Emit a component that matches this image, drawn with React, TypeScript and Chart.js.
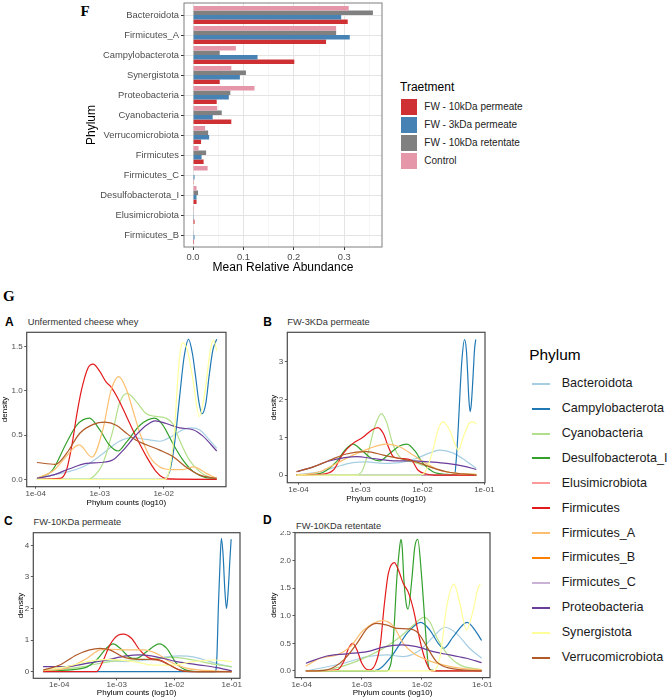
import React, { useEffect, useRef } from "react";
import { Chart, registerables } from "chart.js";
Chart.register(...registerables);

const SANS = "'Liberation Sans', Arial, Helvetica, sans-serif";
const SERIF = "'Liberation Serif', 'Times New Roman', serif";
Chart.defaults.font.family = SANS;

// ---------- Panel F data ----------
const abundanceCategories = [
  "Bacteroidota", "Firmicutes_A", "Campylobacterota", "Synergistota", "Proteobacteria",
  "Cyanobacteria", "Verrucomicrobiota", "Firmicutes", "Firmicutes_C", "Desulfobacterota_I",
  "Elusimicrobiota", "Firmicutes_B",
];
const treatmentLabels = ["FW - 10kDa permeate", "FW - 3kDa permeate", "FW - 10kDa retentate", "Control"];
const permeate10Values = [0.307, 0.264, 0.201, 0.053, 0.047, 0.076, 0.016, 0.021, 0.0005, 0.007, 0.003, 0.002];
const permeate3Values = [0.294, 0.311, 0.128, 0.093, 0.071, 0.039, 0.032, 0.017, 0.003, 0.007, 0.0003, 0.003];
const retentate10Values = [0.357, 0.284, 0.053, 0.105, 0.074, 0.057, 0.030, 0.026, 0.001, 0.010, 0.0005, 0.0005];
const controlValues = [0.309, 0.284, 0.085, 0.076, 0.122, 0.048, 0.024, 0.011, 0.029, 0.007, 0.002, 0.001];
const abundanceTicks = [0, 0.05, 0.1, 0.15, 0.2, 0.25, 0.3, 0.35];
const treatmentColors = ["#CF3034", "#4682B4", "#808080", "#E597A9"];

// ---------- Panel G data ----------
const phyla = [
  "Bacteroidota", "Campylobacterota", "Cyanobacteria", "Desulfobacterota_I", "Elusimicrobiota",
  "Firmicutes", "Firmicutes_A", "Firmicutes_B", "Firmicutes_C", "Proteobacteria",
  "Synergistota", "Verrucomicrobiota",
];
const phylumColors = [
  "#A6CEE3", "#1F78B4", "#B2DF8A", "#33A02C", "#FB9A99", "#E31A1C",
  "#FDBF6F", "#FF7F00", "#CAB2D6", "#6A3D9A", "#FFFF99", "#B15928",
];
const log10Ticks = [-4, -3, -2, -1];

// A: Unfermented cheese whey  [log10 count, density]
const aBacteroidota = [[-3.98, 0.01], [-3.72, 0.05], [-3.47, 0.09], [-3.21, 0.16], [-2.95, 0.29], [-2.69, 0.43], [-2.48, 0.47], [-2.27, 0.45], [-2.06, 0.43], [-1.86, 0.49], [-1.70, 0.56], [-1.57, 0.58], [-1.44, 0.56], [-1.28, 0.44], [-1.17, 0.35]];
const aCampylobacterota = [[-3.98, 0], [-2.02, 0], [-1.91, 0.08], [-1.83, 0.40], [-1.75, 0.93], [-1.68, 1.38], [-1.61, 1.58], [-1.55, 1.42], [-1.50, 1.16], [-1.45, 0.88], [-1.40, 0.74], [-1.34, 0.86], [-1.29, 1.16], [-1.23, 1.46], [-1.17, 1.58]];
const aCyanobacteria = [[-3.98, 0], [-3.20, 0], [-3.10, 0.03], [-2.95, 0.18], [-2.79, 0.56], [-2.69, 0.86], [-2.57, 0.97], [-2.43, 0.88], [-2.27, 0.74], [-2.12, 0.71], [-1.96, 0.69], [-1.86, 0.63], [-1.75, 0.44], [-1.60, 0.22], [-1.44, 0.09], [-1.30, 0.03], [-1.17, 0.01]];
const aDesulfobacterota = [[-3.98, 0.01], [-3.74, 0.10], [-3.52, 0.41], [-3.36, 0.61], [-3.16, 0.69], [-3.0, 0.56], [-2.84, 0.38], [-2.71, 0.32], [-2.58, 0.42], [-2.37, 0.61], [-2.14, 0.69], [-2.01, 0.61], [-1.86, 0.41], [-1.70, 0.22], [-1.54, 0.09], [-1.34, 0.02], [-1.17, 0.01]];
const aElusimicrobiota = [[-2.10, 0], [-1.17, 0]];
const aFirmicutes = [[-3.98, 0], [-3.62, 0.01], [-3.52, 0.10], [-3.43, 0.40], [-3.36, 0.72], [-3.28, 1.02], [-3.18, 1.26], [-3.10, 1.30], [-3.0, 1.22], [-2.90, 1.10], [-2.82, 1.04], [-2.72, 0.92], [-2.58, 0.71], [-2.43, 0.48], [-2.27, 0.26], [-2.12, 0.09], [-2.01, 0.02], [-1.90, 0.005], [-1.17, 0]];
const aFirmicutesA = [[-3.98, 0.01], [-3.72, 0.10], [-3.52, 0.26], [-3.38, 0.37], [-3.32, 0.39], [-3.12, 0.25], [-2.95, 0.56], [-2.82, 1.01], [-2.70, 1.16], [-2.58, 1.01], [-2.48, 0.78], [-2.37, 0.52], [-2.22, 0.26], [-2.06, 0.14], [-1.86, 0.11], [-1.70, 0.11], [-1.53, 0.14], [-1.34, 0.07], [-1.17, 0.01]];
const aFirmicutesB = [];
const aFirmicutesC = [];
const aProteobacteria = [[-3.98, 0.01], [-3.72, 0.05], [-3.47, 0.12], [-3.21, 0.18], [-2.99, 0.19], [-2.79, 0.22], [-2.63, 0.33], [-2.43, 0.50], [-2.27, 0.61], [-2.13, 0.66], [-1.96, 0.63], [-1.75, 0.58], [-1.54, 0.56], [-1.39, 0.49], [-1.17, 0.32]];
const aSynergistota = [[-3.98, 0], [-2.0, 0], [-1.91, 0.10], [-1.83, 0.56], [-1.78, 1.12], [-1.74, 1.44], [-1.70, 1.54], [-1.63, 1.46], [-1.55, 1.16], [-1.44, 0.71], [-1.35, 1.01], [-1.27, 1.46], [-1.22, 1.57], [-1.17, 1.45]];
const aVerrucomicrobiota = [[-3.98, 0.19], [-3.69, 0.17], [-3.52, 0.29], [-3.31, 0.52], [-3.10, 0.62], [-2.92, 0.645], [-2.74, 0.61], [-2.58, 0.52], [-2.43, 0.44], [-2.27, 0.39], [-2.06, 0.33], [-1.86, 0.26], [-1.65, 0.14], [-1.44, 0.05], [-1.17, 0.01]];

// B: FW-3KDa permeate
const bBacteroidota = [[-4.03, 0.01], [-3.66, 0.09], [-3.39, 0.22], [-3.12, 0.33], [-2.90, 0.35], [-2.63, 0.31], [-2.37, 0.33], [-2.10, 0.44], [-1.88, 0.59], [-1.72, 0.66], [-1.51, 0.59], [-1.29, 0.37], [-1.13, 0.18]];
const bCampylobacterota = [[-4.03, 0], [-1.48, 0], [-1.45, 0.5], [-1.42, 1.3], [-1.39, 2.3], [-1.36, 3.1], [-1.32, 3.59], [-1.29, 3.3], [-1.27, 2.7], [-1.25, 2.0], [-1.23, 1.68], [-1.21, 1.9], [-1.18, 2.7], [-1.16, 3.3], [-1.14, 3.59]];
const bCyanobacteria = [[-4.03, 0], [-3.10, 0], [-2.98, 0.09], [-2.88, 0.57], [-2.77, 1.28], [-2.66, 1.63], [-2.58, 1.41], [-2.47, 0.79], [-2.34, 0.44], [-2.15, 0.35], [-1.99, 0.26], [-1.88, 0.22], [-1.72, 0.13], [-1.51, 0.06], [-1.13, 0.02]];
const bDesulfobacterota = [[-4.03, 0.01], [-3.66, 0.04], [-3.39, 0.35], [-3.25, 0.66], [-3.12, 0.82], [-2.98, 0.66], [-2.82, 0.44], [-2.69, 0.38], [-2.53, 0.57], [-2.37, 0.77], [-2.25, 0.82], [-2.12, 0.64], [-1.99, 0.31], [-1.83, 0.09], [-1.61, 0.02], [-1.13, 0]];
const bElusimicrobiota = [[-2.0, 0], [-1.13, 0]];
const bFirmicutes = [[-4.03, 0], [-3.66, 0.02], [-3.44, 0.13], [-3.28, 0.57], [-3.12, 0.84], [-2.96, 1.0], [-2.82, 1.19], [-2.72, 1.26], [-2.63, 1.10], [-2.55, 0.75], [-2.47, 0.49], [-2.34, 0.44], [-2.18, 0.40], [-2.07, 0.13], [-1.94, 0.03], [-1.80, 0], [-1.13, 0]];
const bFirmicutesA = [[-4.03, 0], [-3.66, 0.09], [-3.39, 0.31], [-3.12, 0.53], [-2.85, 0.71], [-2.58, 0.82], [-2.37, 0.75], [-2.15, 0.53], [-1.94, 0.31], [-1.72, 0.13], [-1.40, 0.04], [-1.13, 0.02]];
const bFirmicutesB = [];
const bFirmicutesC = [];
const bProteobacteria = [[-4.03, 0.09], [-3.76, 0.22], [-3.49, 0.38], [-3.06, 0.49], [-2.80, 0.44], [-2.47, 0.38], [-2.15, 0.38], [-1.88, 0.35], [-1.61, 0.31], [-1.34, 0.24], [-1.13, 0.15]];
const bSynergistota = [[-4.03, 0], [-2.04, 0], [-1.94, 0.13], [-1.83, 0.66], [-1.75, 1.19], [-1.67, 1.41], [-1.56, 1.19], [-1.48, 0.84], [-1.42, 0.66], [-1.34, 1.01], [-1.24, 1.38], [-1.18, 1.41], [-1.13, 1.35]];
const bVerrucomicrobiota = [[-4.03, 0.09], [-3.76, 0.22], [-3.49, 0.40], [-3.23, 0.56], [-2.90, 0.62], [-2.63, 0.53], [-2.37, 0.44], [-2.10, 0.35], [-1.88, 0.22], [-1.61, 0.09], [-1.13, 0]];

// C: FW-10KDa permeate
const cBacteroidota = [[-4.28, 0.03], [-3.87, 0.16], [-3.52, 0.28], [-3.18, 0.35], [-2.83, 0.32], [-2.48, 0.37], [-2.13, 0.47], [-1.90, 0.50], [-1.67, 0.47], [-1.38, 0.32], [-1.0, 0.14]];
const cCampylobacterota = [[-4.28, 0], [-1.29, 0], [-1.26, 0.37], [-1.23, 2.16], [-1.20, 3.6], [-1.18, 4.22], [-1.15, 3.7], [-1.12, 2.6], [-1.09, 2.0], [-1.06, 2.6], [-1.03, 3.6], [-1.01, 4.19]];
const cCyanobacteria = [[-4.28, 0], [-3.58, 0.16], [-3.12, 0.32], [-2.71, 0.37], [-2.31, 0.42], [-2.02, 0.45], [-1.67, 0.37], [-1.32, 0.24], [-1.0, 0.16]];
const cDesulfobacterota = [[-4.28, 0.02], [-3.58, 0.11], [-3.35, 0.37], [-3.18, 0.74], [-3.06, 0.88], [-2.94, 0.74], [-2.77, 0.45], [-2.66, 0.42], [-2.48, 0.63], [-2.26, 0.88], [-2.13, 0.74], [-1.96, 0.26], [-1.79, 0.05], [-1.50, 0], [-1.0, 0]];
const cElusimicrobiota = [];
const cFirmicutes = [[-4.28, 0], [-3.35, 0], [-3.23, 0.37], [-3.12, 0.84], [-2.97, 1.16], [-2.88, 1.19], [-2.74, 1.05], [-2.60, 0.69], [-2.42, 0.42], [-2.25, 0.37], [-2.08, 0.21], [-1.90, 0.05], [-1.70, 0], [-1.0, 0]];
const cFirmicutesA = [[-4.28, 0.03], [-3.87, 0.11], [-3.52, 0.42], [-3.29, 0.69], [-3.12, 0.71], [-2.83, 0.69], [-2.54, 0.69], [-2.31, 0.58], [-2.08, 0.32], [-1.79, 0.11], [-1.26, 0.02], [-1.0, 0.01]];
const cFirmicutesB = [];
const cFirmicutesC = [];
const cProteobacteria = [[-4.28, 0.16], [-3.87, 0.16], [-3.52, 0.26], [-3.18, 0.37], [-2.83, 0.50], [-2.60, 0.53], [-2.31, 0.47], [-1.96, 0.32], [-1.55, 0.21], [-1.26, 0.13], [-1.0, 0.03]];
const cSynergistota = [[-4.28, 0.05], [-3.87, 0.16], [-3.52, 0.32], [-3.12, 0.39], [-2.71, 0.32], [-2.37, 0.21], [-2.02, 0.21], [-1.67, 0.32], [-1.32, 0.37], [-1.0, 0.32]];
const cVerrucomicrobiota = [[-4.28, 0.05], [-3.99, 0.21], [-3.70, 0.53], [-3.47, 0.69], [-3.29, 0.74], [-3.12, 0.69], [-2.89, 0.47], [-2.60, 0.39], [-2.31, 0.37], [-2.08, 0.21], [-1.90, 0.05], [-1.55, 0], [-1.0, 0]];

// D: FW-10KDa retentate
const dBacteroidota = [[-3.93, 0], [-3.30, 0.14], [-2.91, 0.26], [-2.58, 0.29], [-2.31, 0.26], [-2.03, 0.38], [-1.81, 0.62], [-1.62, 0.79], [-1.43, 0.68], [-1.21, 0.41], [-1.01, 0.23]];
const dCampylobacterota = [[-3.93, 0], [-2.86, 0], [-2.69, 0.05], [-2.47, 0.32], [-2.25, 0.68], [-2.02, 0.88], [-1.87, 0.74], [-1.73, 0.50], [-1.64, 0.41], [-1.48, 0.62], [-1.25, 0.88], [-1.12, 0.74], [-1.01, 0.55]];
const dCyanobacteria = [[-3.93, 0], [-3.58, 0.02], [-3.25, 0.11], [-2.91, 0.26], [-2.64, 0.41], [-2.36, 0.62], [-2.14, 0.83], [-1.97, 0.97], [-1.87, 0.89], [-1.76, 0.62], [-1.59, 0.32], [-1.37, 0.11], [-1.01, 0.02]];
const dDesulfobacterota = [[-3.93, 0], [-2.58, 0], [-2.55, 0.03], [-2.50, 0.25], [-2.46, 0.85], [-2.42, 1.64], [-2.38, 2.15], [-2.35, 2.38], [-2.33, 2.25], [-2.30, 1.64], [-2.26, 1.2], [-2.23, 1.12], [-2.17, 1.64], [-2.12, 2.24], [-2.07, 2.38], [-2.01, 1.76], [-1.95, 0.86], [-1.90, 0.14], [-1.86, 0.02], [-1.70, 0], [-1.01, 0]];
const dElusimicrobiota = [[-1.84, 0], [-1.01, 0]];
const dFirmicutes = [[-3.93, 0], [-3.41, 0.02], [-3.30, 0.17], [-3.22, 0.41], [-3.15, 0.50], [-3.08, 0.38], [-3.0, 0.14], [-2.89, 0.02], [-2.78, 0.11], [-2.69, 0.50], [-2.63, 1.16], [-2.56, 1.76], [-2.46, 1.96], [-2.39, 1.82], [-2.31, 1.58], [-2.23, 1.43], [-2.14, 1.10], [-2.06, 0.68], [-1.98, 0.32], [-1.90, 0.08], [-1.84, 0], [-1.01, 0]];
const dFirmicutesA = [[-3.93, 0.09], [-3.69, 0.23], [-3.41, 0.29], [-3.19, 0.44], [-2.97, 0.74], [-2.64, 0.91], [-2.47, 0.80], [-2.31, 0.50], [-2.14, 0.32], [-1.92, 0.20], [-1.65, 0.11], [-1.37, 0.05], [-1.01, 0.02]];
const dFirmicutesB = [];
const dFirmicutesC = [];
const dProteobacteria = [[-3.93, 0.14], [-3.58, 0.27], [-3.25, 0.31], [-2.91, 0.35], [-2.64, 0.43], [-2.34, 0.47], [-2.09, 0.44], [-1.81, 0.35], [-1.54, 0.29], [-1.26, 0.23], [-1.01, 0.15]];
const dSynergistota = [[-3.93, 0], [-1.81, 0], [-1.70, 0.26], [-1.59, 1.16], [-1.47, 1.57], [-1.37, 1.22], [-1.26, 0.74], [-1.15, 1.10], [-1.07, 1.49], [-1.03, 1.57]];
const dVerrucomicrobiota = [[-3.93, 0], [-3.58, 0.02], [-3.30, 0.20], [-3.08, 0.50], [-2.91, 0.77], [-2.75, 0.86], [-2.58, 0.83], [-2.42, 0.77], [-2.20, 0.76], [-2.06, 0.68], [-1.92, 0.44], [-1.76, 0.17], [-1.54, 0.05], [-1.01, 0]];

const panelASeries = [aBacteroidota, aCampylobacterota, aCyanobacteria, aDesulfobacterota, aElusimicrobiota, aFirmicutes, aFirmicutesA, aFirmicutesB, aFirmicutesC, aProteobacteria, aSynergistota, aVerrucomicrobiota];
const panelBSeries = [bBacteroidota, bCampylobacterota, bCyanobacteria, bDesulfobacterota, bElusimicrobiota, bFirmicutes, bFirmicutesA, bFirmicutesB, bFirmicutesC, bProteobacteria, bSynergistota, bVerrucomicrobiota];
const panelCSeries = [cBacteroidota, cCampylobacterota, cCyanobacteria, cDesulfobacterota, cElusimicrobiota, cFirmicutes, cFirmicutesA, cFirmicutesB, cFirmicutesC, cProteobacteria, cSynergistota, cVerrucomicrobiota];
const panelDSeries = [dBacteroidota, dCampylobacterota, dCyanobacteria, dDesulfobacterota, dElusimicrobiota, dFirmicutes, dFirmicutesA, dFirmicutesB, dFirmicutesC, dProteobacteria, dSynergistota, dVerrucomicrobiota];

const densityTicksA = [0, 0.5, 1, 1.5];
const densityTicksB = [0, 1, 2, 3];
const densityTicksC = [0, 1, 2, 3, 4];
const densityTicksD = [0, 0.5, 1, 1.5, 2, 2.5];

// ---------- layout specs (pixels) ----------
const panelSpecs = [
  { series: panelASeries, xMin: -4.14, xMax: -1.025, yMin: -0.083, yMax: 1.659, yTicks: densityTicksA, xTicks: log10Ticks, dec: 1,
    plot: [26.7, 332.3, 226, 486.7], canvas: [0, 331, 238, 508] },
  { series: panelBSeries, xMin: -4.18, xMax: -0.99, yMin: -0.2, yMax: 3.78, yTicks: densityTicksB, xTicks: log10Ticks, dec: 0,
    plot: [287.3, 332.3, 485, 482.7], canvas: [269, 331, 497, 504] },
  { series: panelCSeries, xMin: -4.45, xMax: -0.856, yMin: -0.21, yMax: 4.4, yTicks: densityTicksC, xTicks: log10Ticks, dec: 0,
    plot: [33.3, 532.7, 240, 678.3], canvas: [16, 531, 252, 698] },
  { series: panelDSeries, xMin: -4.11, xMax: -0.87, yMin: -0.12, yMax: 2.5, yTicks: densityTicksD, xTicks: log10Ticks, dec: 1,
    plot: [295, 532.7, 490, 677.6], canvas: [269, 531, 502, 698] },
];

const framePlugin = (color, width) => ({
  id: "frame",
  afterDraw(chart) {
    const { ctx, chartArea: a } = chart;
    ctx.save();
    ctx.strokeStyle = color;
    ctx.lineWidth = width;
    ctx.strokeRect(a.left, a.top, a.right - a.left, a.bottom - a.top);
    ctx.restore();
  },
});

const zeroPad = (s) => {
  s.paddingLeft = 0; s.paddingRight = 0; s.paddingTop = 0; s.paddingBottom = 0;
};

function makeDensity(canvas, spec) {
  const [pl, pt, pr, pb] = spec.plot;
  const [cl, ct, cr, cb] = spec.canvas;
  const yW = pl - cl, xH = cb - pb;
  return new Chart(canvas, {
    type: "scatter",
    data: {
      datasets: spec.series.map((pts, i) => ({
        label: phyla[i],
        data: pts.map(([x, y]) => ({ x, y })),
        showLine: true,
        borderColor: phylumColors[i],
        backgroundColor: phylumColors[i],
        borderWidth: 1.2,
        pointRadius: 0,
        cubicInterpolationMode: "monotone",
        fill: false,
        order: 11 - i,
      })),
    },
    options: {
      animation: false,
      responsive: false,
      events: [],
      plugins: { legend: { display: false }, tooltip: { enabled: false } },
      layout: { padding: { top: pt - ct, right: cr - pr, left: 0, bottom: 0 } },
      scales: {
        x: {
          type: "linear", min: spec.xMin, max: spec.xMax,
          afterBuildTicks: (s) => { s.ticks = spec.xTicks.filter((v) => v >= spec.xMin && v <= spec.xMax).map((v) => ({ value: v })); },
          ticks: { callback: (v) => "1e-0" + Math.round(-v), font: { size: 8 }, color: "#4D4D4D", padding: 0, maxRotation: 0, autoSkip: false },
          grid: { drawOnChartArea: false, drawTicks: true, tickLength: 2, tickColor: "#333", tickWidth: 0.8 },
          border: { display: false },
          title: { display: true, text: "Phylum counts (log10)", font: { size: 8 }, color: "#000", padding: 0 },
          afterFit: (s) => { s.height = xH; zeroPad(s); },
        },
        y: {
          type: "linear", min: spec.yMin, max: spec.yMax,
          afterBuildTicks: (s) => { s.ticks = spec.yTicks.map((v) => ({ value: v })); },
          ticks: { callback: (v) => Number(v).toFixed(spec.dec), font: { size: 8 }, color: "#4D4D4D", padding: 1.5, autoSkip: false },
          grid: { drawOnChartArea: false, drawTicks: true, tickLength: 2.5, tickColor: "#333", tickWidth: 0.8 },
          border: { display: false },
          title: { display: true, text: "density", font: { size: 8 }, color: "#000", padding: 0 },
          afterFit: (s) => { s.width = yW; zeroPad(s); },
        },
      },
    },
    plugins: [framePlugin("#4a4a4a", 1.2)],
  });
}

const fPlot = [184, 3, 382, 247];
const fCanvas = [84, 2, 386, 275];

function makeAbundance(canvas) {
  const [pl, pt, pr, pb] = fPlot;
  const [cl, ct, cr, cb] = fCanvas;
  const toXY = (arr) => arr.map((v, i) => ({ x: v, y: i }));
  const isMajor = (v) => Math.abs(Math.round(v * 10) - v * 10) < 1e-6;
  return new Chart(canvas, {
    type: "bar",
    data: {
      datasets: [
        { label: treatmentLabels[3], data: toXY(controlValues), backgroundColor: treatmentColors[3] },
        { label: treatmentLabels[2], data: toXY(retentate10Values), backgroundColor: treatmentColors[2] },
        { label: treatmentLabels[1], data: toXY(permeate3Values), backgroundColor: treatmentColors[1] },
        { label: treatmentLabels[0], data: toXY(permeate10Values), backgroundColor: treatmentColors[0] },
      ],
    },
    options: {
      indexAxis: "y",
      animation: false,
      responsive: false,
      events: [],
      datasets: { bar: { categoryPercentage: 0.9, barPercentage: 1.0, borderWidth: 0 } },
      plugins: { legend: { display: false }, tooltip: { enabled: false } },
      layout: { padding: { top: pt - ct, right: cr - pr, left: 0, bottom: 0 } },
      scales: {
        x: {
          type: "linear", min: -0.0179, max: 0.375,
          afterBuildTicks: (s) => { s.ticks = abundanceTicks.map((v) => ({ value: v })); },
          ticks: { callback: (v) => (isMajor(v) ? Number(v).toFixed(1) : ""), font: { size: 9.4 }, color: "#4D4D4D", padding: 2, maxRotation: 0, autoSkip: false },
          grid: {
            color: (c) => (c.tick && isMajor(c.tick.value) ? "#E4E4E4" : "#EFEFEF"),
            lineWidth: (c) => (c.tick && isMajor(c.tick.value) ? 1 : 0.6),
            tickColor: (c) => (c.tick && isMajor(c.tick.value) ? "#333" : "rgba(0,0,0,0)"),
            tickLength: 3, drawTicks: true, offset: false,
          },
          border: { display: false },
          title: { display: true, text: "Mean Relative Abundance", font: { size: 12 }, color: "#000", padding: 0 },
          afterFit: (s) => { s.height = cb - pb; zeroPad(s); },
        },
        y: {
          type: "linear", reverse: true, min: -0.6, max: abundanceCategories.length - 0.4, offset: false,
          afterBuildTicks: (s) => { s.ticks = abundanceCategories.map((_, i) => ({ value: i })); },
          ticks: { callback: (v) => abundanceCategories[Math.round(v)], font: { size: 9.4 }, color: "#4D4D4D", padding: 2, autoSkip: false },
          grid: { color: "#E4E4E4", lineWidth: 1, tickColor: "#333", tickLength: 3, drawTicks: true, offset: false },
          border: { display: false },
          title: { display: true, text: "Phylum", font: { size: 12 }, color: "#000", padding: 0 },
          afterFit: (s) => { s.width = pl - cl; zeroPad(s); },
        },
      },
    },
    plugins: [framePlugin("#7F7F7F", 1)],
  });
}

function Txt({ x, cy, size, children, bold = false, family = SANS, color = "#000" }) {
  const lh = size * 1.2;
  return (
    <div style={{ position: "absolute", left: x, top: cy - lh / 2, fontSize: size, lineHeight: lh + "px", height: lh, fontFamily: family, fontWeight: bold ? 700 : 400, color, whiteSpace: "nowrap" }}>
      {children}
    </div>
  );
}

const panelTitles = [
  { letter: "A", lx: 5, ly: 322.5, title: "Unfermented cheese whey", tx: 27.7, ty: 323 },
  { letter: "B", lx: 263.3, ly: 322.5, title: "FW-3KDa permeate", tx: 287.3, ty: 323 },
  { letter: "C", lx: 4, ly: 521.5, title: "FW-10KDa permeate", tx: 33.5, ty: 522.5 },
  { letter: "D", lx: 263, ly: 520, title: "FW-10KDa retentate", tx: 296, ty: 526.5 },
];

export default function App() {
  const fRef = useRef(null);
  const refs = [useRef(null), useRef(null), useRef(null), useRef(null)];
  useEffect(() => {
    const charts = [];
    if (fRef.current) charts.push(makeAbundance(fRef.current));
    panelSpecs.forEach((spec, i) => {
      if (refs[i].current) charts.push(makeDensity(refs[i].current, spec));
    });
    return () => charts.forEach((c) => c.destroy());
  }, []);

  const canvasStyle = (c) => ({ position: "absolute", left: c[0], top: c[1], width: c[2] - c[0], height: c[3] - c[1] });

  return (
    <div style={{ position: "absolute", left: 0, top: 0, width: 669, height: 700, background: "#fff", overflow: "hidden", fontFamily: SANS }}>
      <Txt x={80.5} cy={10.5} size={15} bold family={SERIF}>F</Txt>
      <canvas ref={fRef} width={fCanvas[2] - fCanvas[0]} height={fCanvas[3] - fCanvas[1]} style={canvasStyle(fCanvas)} />
      <Txt x={400} cy={86.7} size={12}>Traetment</Txt>
      {treatmentLabels.map((lab, i) => (
        <React.Fragment key={lab}>
          <div style={{ position: "absolute", left: 400.7, top: 99.3 + i * 17.75, width: 16.6, height: 16, background: treatmentColors[i] }} />
          <Txt x={424.3} cy={107.3 + i * 17.75} size={10} color="#222">{lab}</Txt>
        </React.Fragment>
      ))}

      <Txt x={3} cy={296} size={15} bold family={SERIF}>G</Txt>
      {panelTitles.map((p) => (
        <React.Fragment key={p.letter}>
          <Txt x={p.lx} cy={p.ly} size={12} bold>{p.letter}</Txt>
          <Txt x={p.tx} cy={p.ty} size={9.3} color="#333">{p.title}</Txt>
        </React.Fragment>
      ))}
      {panelSpecs.map((s, i) => (
        <canvas key={i} ref={refs[i]} width={s.canvas[2] - s.canvas[0]} height={s.canvas[3] - s.canvas[1]} style={canvasStyle(s.canvas)} />
      ))}

      <Txt x={529.3} cy={355} size={15.4}>Phylum</Txt>
      {phyla.map((name, i) => (
        <React.Fragment key={name}>
          <div style={{ position: "absolute", left: 531.7, top: 383.7 + i * 24.9 - 1, width: 18.5, height: 2, background: phylumColors[i] }} />
          <Txt x={561.7} cy={383.7 + i * 24.9} size={12.6} color="#1a1a1a">{name}</Txt>
        </React.Fragment>
      ))}
    </div>
  );
}
